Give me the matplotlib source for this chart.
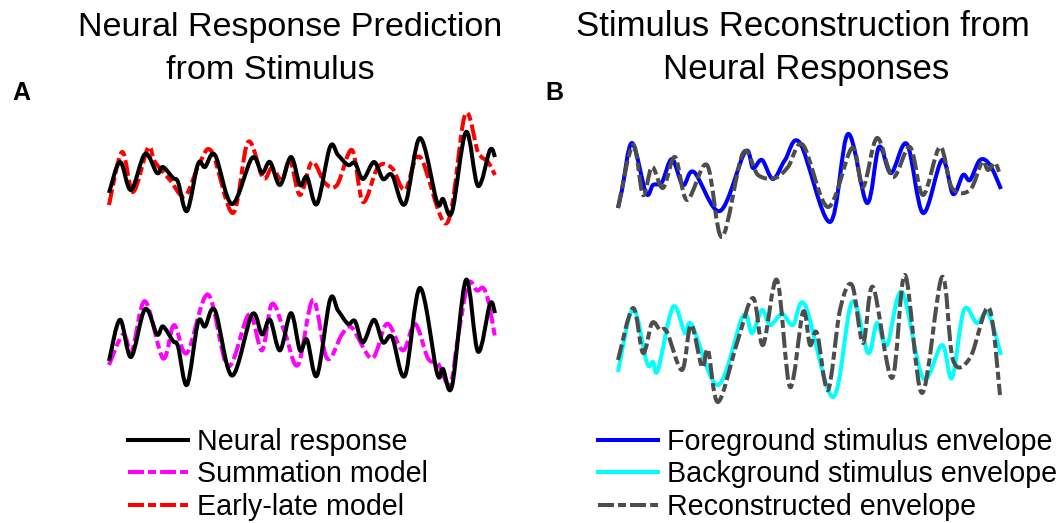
import numpy as np
import matplotlib
matplotlib.use('Agg')
import matplotlib.pyplot as plt
from matplotlib.path import Path
from matplotlib.patches import PathPatch
from matplotlib.lines import Line2D

plt.rcParams['font.family'] = ['Liberation Sans', 'DejaVu Sans']
plt.rcParams['lines.scale_dashes'] = False

# ---- data (time in samples, amplitude in a.u.) ----
# panel A: neural response and the two model predictions
t_neural = [1, 12, 23, 37, 49, 55, 65, 70, 79, 90, 97, 107, 124, 144, 154, 162, 172, 183, 192, 199,
            209, 222, 230, 240, 247, 255, 266, 275, 284, 297, 312, 329, 335, 344, 358, 370, 382, 387]
neural = [-13, 18, -10, 26, 7, 13, 2, -2, -31, 16, 13, 25, -24, 22, 7, 18, -5, 23, -5, 3,
          -24, 33, 25, 15, 17, 1, 18, 1, 5, -24, 42, -22, -19, -32, 48, -6, 30, 23]

t_early = [1, 14, 25, 40, 47, 62, 77, 92, 104, 125, 140, 155, 164, 174, 182, 192, 204, 217, 229, 244,
           255, 270, 284, 297, 312, 339, 357, 370, 380, 387]
early = [-25, 28, -12, 32, 18, 0, -16, 18, 28, -33, 38, 2, 12, 0, 20, -15, 18, -3, -5, 30,
         -22, 13, 12, -10, 23, -43, 65, 28, 18, 5]

t_sum = [1, 15, 24, 37, 55, 66, 79, 100, 120, 141, 154, 164, 177, 190, 205, 219, 234, 244, 264, 279,
         295, 307, 320, 330, 342, 350, 360, 369, 375, 380, 387]
summ = [-16, 7, -5, 32, -11, 14, -7, 37, -17, 22, -5, 30, 8, -16, 33, -11, 7, 12, -11, 15,
        -5, 15, -11, -15, -31, 5, 45, 40, 42, 33, 5]

# panel B: stimulus envelopes and reconstructions
t_fg = [1, 5, 15, 29, 36, 45, 55, 66, 77, 103, 128, 136, 145, 156, 168, 183, 213, 231, 250, 262,
        274, 290, 306, 325, 336, 346, 353, 363, 373, 384]
fg = [-23, -5, 42, -8, 0, 3, 26, 0, 13, -26, 33, 17, 25, 6, 25, 42, -37, 51, -18, 38,
      12, 41, -28, 25, -9, 10, 5, 25, 20, -4]

t_rec1 = [1, 16, 26, 35, 46, 58, 70, 90, 105, 126, 141, 158, 171, 186, 211, 235, 246, 260, 276, 293,
          306, 323, 335, 353, 365, 371, 378, 383]
rec1 = [-23, 40, -10, 18, -3, 28, -15, 20, -52, 32, 10, 7, 18, 40, -22, 37, -2, 47, 8, 38,
        -10, 38, -3, -5, 23, 15, 22, 10]

t_bg = [1, 16, 30, 36, 41, 56, 68, 75, 101, 126, 135, 145, 153, 165, 176, 188, 216, 235, 251, 260,
        270, 285, 306, 325, 335, 347, 360, 371, 384]
bg = [-27, 36, -18, -17, -25, 38, 12, 20, -40, 29, 12, 35, 20, 31, 20, 40, -52, 43, -8, 22,
      0, 53, -33, 0, -33, 35, 22, 32, -10]

t_rec2 = [1, 16, 26, 35, 43, 50, 65, 74, 85, 91, 101, 120, 136, 146, 160, 173, 186, 193, 200, 211,
          223, 235, 246, 256, 275, 288, 305, 325, 336, 353, 372, 383]
rec2 = [-15, 37, -8, 22, 15, 13, -25, 20, -22, -5, -57, 2, 47, 0, 65, -42, 33, 0, 12, -45,
        35, 60, 2, 58, -33, 70, -48, 68, -15, -13, 37, -50]


W, H = 1060, 523
DASH = (0, (11.5, 2.9, 5.8, 2.9))
LW = 2.9


def smooth(ax, x, y, color, ls='-', z=2):
    # smooth curve through the samples (Catmull-Rom -> cubic bezier)
    p = np.column_stack([x, y]).astype(float)
    q = np.vstack([p[0], p, p[-1]])
    verts, codes = [p[0]], [Path.MOVETO]
    for i in range(len(p) - 1):
        p0, p1, p2, p3 = q[i], q[i + 1], q[i + 2], q[i + 3]
        verts += [p1 + (p2 - p0) / 6, p2 - (p3 - p1) / 6, p2]
        codes += [Path.CURVE4] * 3
    ax.add_patch(PathPatch(Path(verts, codes), fill=False, edgecolor=color, lw=LW,
                           linestyle=ls, joinstyle='round', capstyle='butt', zorder=z))


def box(l, t, r, b):
    ax = fig.add_axes([l / W, 1 - b / H, (r - l) / W, (b - t) / H])
    ax.set_xlim(-8, 397)
    ax.axis('off')
    return ax


fig = plt.figure(figsize=(W / 100, H / 100), dpi=100)

axA1 = box(100, 100, 505, 240)
axA1.set_ylim(-60, 80)
smooth(axA1, t_early, early, '#ff0000', DASH, 2)
smooth(axA1, t_neural, neural, 'black', '-', 3)

axA2 = box(100, 250, 505, 420)
axA2.set_ylim(-57.4, 70.5)
smooth(axA2, t_sum, summ, '#ff00ff', DASH, 2)
smooth(axA2, t_neural, neural, 'black', '-', 3)

axB1 = box(609, 100, 1014, 250)
axB1.set_ylim(-65, 85)
smooth(axB1, t_fg, fg, '#0000ff', '-', 2)
smooth(axB1, t_rec1, rec1, '#4d4d4d', DASH, 3)

axB2 = box(609, 250, 1014, 420)
axB2.set_ylim(-75, 95)
smooth(axB2, t_bg, bg, '#00ffff', '-', 2)
smooth(axB2, t_rec2, rec2, '#4d4d4d', DASH, 3)

# titles and panel letters
fig.text(290 / W, 1 - 36 / H, 'Neural Response Prediction', ha='center', va='baseline', fontsize=24.6)
fig.text(270 / W, 1 - 79 / H, 'from Stimulus', ha='center', va='baseline', fontsize=24.6)
fig.text(803 / W, 1 - 36 / H, 'Stimulus Reconstruction from', ha='center', va='baseline', fontsize=25)
fig.text(806 / W, 1 - 79 / H, 'Neural Responses', ha='center', va='baseline', fontsize=25)
fig.text(12 / W, 1 - 100 / H, 'A', ha='left', va='baseline', fontsize=18, fontweight='bold')
fig.text(545 / W, 1 - 100 / H, 'B', ha='left', va='baseline', fontsize=18, fontweight='bold')

# legends
def handle(color, ls):
    return Line2D([], [], color=color, lw=LW, linestyle=ls)

leg_kw = dict(loc='upper left', frameon=False, fontsize=20.6, handlelength=2.1,
              handletextpad=0.31, labelspacing=0.15, borderpad=0, borderaxespad=0)
fig.legend([handle('black', '-'), handle('#ff00ff', DASH), handle('#ff0000', DASH)],
           ['Neural response', 'Summation model', 'Early-late model'],
           bbox_to_anchor=(128 / W, 1 - 428 / H), **leg_kw)
fig.legend([handle('#0000ff', '-'), handle('#00ffff', '-'), handle('#4d4d4d', DASH)],
           ['Foreground stimulus envelope', 'Background stimulus envelope', 'Reconstructed envelope'],
           bbox_to_anchor=(598 / W, 1 - 428 / H), **leg_kw)

fig.savefig('out.png', dpi=100)
